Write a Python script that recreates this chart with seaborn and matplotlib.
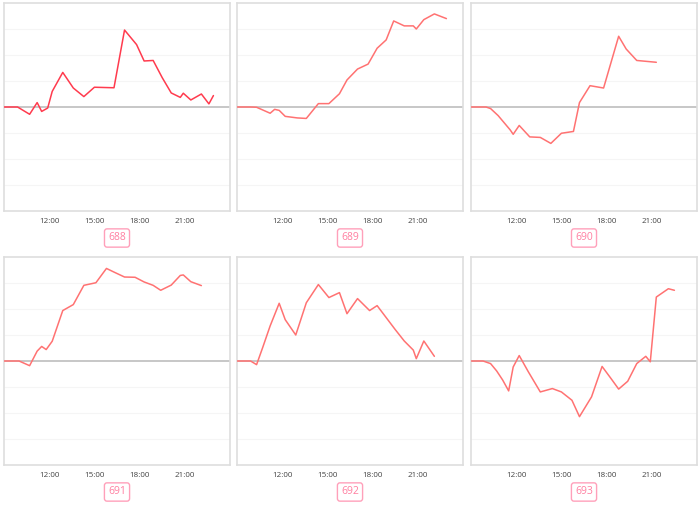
import numpy as np
import pandas as pd
import matplotlib
matplotlib.use("Agg")
import matplotlib.pyplot as plt
import seaborn as sns

# hours of day for each reading, and the value at that time
t_688 = [9.0, 9.9, 10.7, 11.2, 11.5, 11.9, 12.2, 12.9, 13.6, 14.3, 15.0, 16.3, 17.0,
         17.8, 18.3, 18.9, 19.5, 20.1, 20.7, 20.9, 21.4, 22.1, 22.6, 22.9]
v_688 = [0, 0, -0.28, 0.17, -0.17, -0.04, 0.60, 1.33, 0.73, 0.40, 0.76, 0.74, 2.96,
         2.40, 1.77, 1.79, 1.13, 0.54, 0.37, 0.53, 0.27, 0.50, 0.12, 0.44]

t_689 = [9.0, 9.9, 10.3, 11.2, 11.5, 11.8, 12.2, 13.0, 13.6, 14.4, 15.1, 15.8, 16.3,
         17.0, 17.7, 18.3, 18.9, 19.4, 20.1, 20.7, 20.9, 21.4, 22.1, 22.9]
v_689 = [0, 0, -0.01, -0.24, -0.09, -0.13, -0.36, -0.42, -0.44, 0.13, 0.13, 0.51, 1.04,
         1.46, 1.65, 2.26, 2.58, 3.31, 3.12, 3.12, 3.00, 3.36, 3.58, 3.40]

t_690 = [9.0, 10.0, 10.3, 10.8, 11.6, 11.8, 12.2, 12.9, 13.6, 14.3, 15.0, 15.8, 16.2,
         16.9, 17.8, 18.8, 19.3, 20.0, 21.3]
v_690 = [0, 0, -0.06, -0.33, -0.88, -1.05, -0.71, -1.15, -1.17, -1.40, -1.01, -0.94, 0.17,
         0.82, 0.73, 2.72, 2.23, 1.79, 1.72]

t_691 = [9.0, 10.0, 10.7, 11.2, 11.5, 11.8, 12.2, 12.9, 13.6, 14.3, 15.1, 15.8, 16.3,
         17.0, 17.7, 18.3, 18.9, 19.4, 20.1, 20.7, 20.9, 21.4, 22.1]
v_691 = [0, 0, -0.18, 0.38, 0.56, 0.44, 0.76, 1.94, 2.17, 2.91, 3.01, 3.56, 3.42,
         3.23, 3.22, 3.04, 2.91, 2.72, 2.92, 3.29, 3.31, 3.05, 2.90]

t_692 = [9.0, 9.9, 10.3, 10.7, 11.2, 11.8, 12.2, 12.9, 13.6, 14.4, 15.1, 15.8, 16.3,
         17.0, 17.8, 18.3, 18.9, 19.5, 20.1, 20.7, 20.9, 21.4, 22.1]
v_692 = [0, 0, -0.14, 0.51, 1.35, 2.22, 1.59, 1.00, 2.24, 2.94, 2.44, 2.63, 1.82,
         2.40, 1.94, 2.13, 1.67, 1.21, 0.77, 0.42, 0.09, 0.77, 0.18]

t_693 = [9.0, 9.8, 10.3, 10.7, 11.1, 11.5, 11.8, 12.2, 12.8, 13.6, 14.4, 15.0, 15.7,
         16.2, 17.0, 17.7, 18.3, 18.8, 19.4, 20.0, 20.6, 20.9, 21.3, 22.1, 22.5]
v_693 = [0, 0, -0.10, -0.38, -0.73, -1.15, -0.23, 0.21, -0.41, -1.19, -1.06, -1.19, -1.51,
         -2.14, -1.38, -0.21, -0.68, -1.08, -0.78, -0.10, 0.18, -0.03, 2.46, 2.78, 2.72]

names = ["688", "689", "690", "691", "692", "693"]
times = [t_688, t_689, t_690, t_691, t_692, t_693]
values = [v_688, v_689, v_690, v_691, v_692, v_693]
line_colors = ["#ff3b4e", "#ff7272", "#ff7272", "#ff7272", "#ff7272", "#ff7272"]

tick_hours = [12, 15, 18, 21]
tick_labels = ["12:00", "15:00", "18:00", "21:00"]

sns.set_style("white")
plt.rcParams['font.family'] = ['Open Sans', 'DejaVu Sans']

fig = plt.figure(figsize=(7, 5.08), dpi=100)

W, H = 700, 508
col_left = [4, 237, 471]
row_top = [3, 257]
ax_w, ax_h = 226, 208

for i, name in enumerate(names):
    r, c = divmod(i, 3)
    left = col_left[c] / W
    bottom = 1 - (row_top[r] + ax_h) / H
    ax = fig.add_axes([left, bottom, ax_w / W, ax_h / H])

    df = pd.DataFrame({"hour": times[i], "value": values[i]})
    sns.lineplot(data=df, x="hour", y="value", ax=ax, color=line_colors[i],
                 linewidth=1.1, zorder=3)

    ax.set_xlim(9, 24)
    ax.set_ylim(-4, 4)
    for g in [-3, -2, -1, 1, 2, 3]:
        ax.axhline(g, color="#f5f5f5", linewidth=0.8, zorder=1)
    ax.axhline(0, color="#bdbdbd", linewidth=1.2, zorder=2)

    ax.set_xticks(tick_hours)
    ax.set_xticklabels(tick_labels)
    ax.set_yticks([])
    ax.set_xlabel("")
    ax.set_ylabel("")
    ax.tick_params(axis="x", length=3, width=0.8, color="#dddddd",
                   labelsize=5.8, labelcolor="#444444", pad=2)
    for s in ax.spines.values():
        s.set_color("#dedede")
        s.set_linewidth(1.2)

    cx = left + ax_w / W / 2
    cy = 1 - (row_top[r] + 235) / H
    fig.text(cx, cy, name, ha="center", va="center", fontsize=7.5, color="#ff7ea0",
             bbox=dict(boxstyle="round,pad=0.35,rounding_size=0.25", fc="white",
                       ec="#ffa0ba", lw=1))

fig.savefig("out.png", dpi=100)
